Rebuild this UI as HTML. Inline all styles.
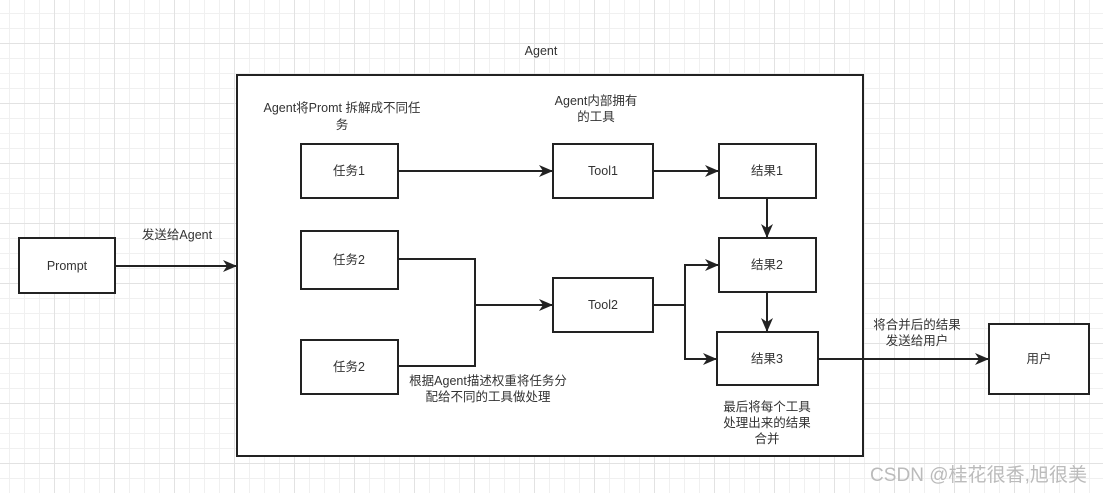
<!DOCTYPE html>
<html><head><meta charset="utf-8"><style>
body{margin:0;width:1103px;height:493px;overflow:hidden;background:#fff;
background-image:linear-gradient(#e2e2e2 1px,transparent 1px),linear-gradient(90deg,#e2e2e2 1px,transparent 1px),linear-gradient(#f0f0f0 1px,transparent 1px),linear-gradient(90deg,#f0f0f0 1px,transparent 1px);
background-size:60px 60px,60px 60px,15px 15px,15px 15px;background-position:0 43px,54px 0,0 13px,9px 0;}
svg{position:absolute;left:0;top:0}
text{font-family:"Liberation Sans","Noto Sans CJK SC",sans-serif;font-size:12.5px;fill:#333}
</style></head><body>
<svg width="1103" height="493">
<defs><marker id="a" markerWidth="14" markerHeight="12" refX="13" refY="6" orient="auto" markerUnits="userSpaceOnUse"><path d="M0,0 L14,6 L0,12 L4,6z" fill="#222"/></marker></defs>
<g fill="#fff" stroke="#222" stroke-width="2">
<rect x="237" y="75" width="626" height="381"/>
<rect x="19" y="238" width="96" height="55"/>
<rect x="301" y="144" width="97" height="54"/>
<rect x="553" y="144" width="100" height="54"/>
<rect x="719" y="144" width="97" height="54"/>
<rect x="301" y="231" width="97" height="58"/>
<rect x="553" y="278" width="100" height="54"/>
<rect x="719" y="238" width="97" height="54"/>
<rect x="717" y="332" width="101" height="53"/>
<rect x="301" y="340" width="97" height="54"/>
<rect x="989" y="324" width="100" height="70"/>
</g>
<g fill="none" stroke="#222" stroke-width="2">
<path d="M115,266H236" marker-end="url(#a)"/>
<path d="M398,171H552" marker-end="url(#a)"/>
<path d="M653,171H718" marker-end="url(#a)"/>
<path d="M767,198V237" marker-end="url(#a)"/>
<path d="M767,292V331" marker-end="url(#a)"/>
<path d="M398,259H475V366H398"/>
<path d="M475,305H552" marker-end="url(#a)"/>
<path d="M653,305H685V265H718" marker-end="url(#a)"/>
<path d="M685,305V359H716" marker-end="url(#a)"/>
<path d="M818,359H988" marker-end="url(#a)"/>
</g>
<g text-anchor="middle">
<text x="541" y="55">Agent</text>
<text x="67" y="270">Prompt</text>
<text x="349" y="175">任务1</text>
<text x="603" y="175">Tool1</text>
<text x="767" y="175">结果1</text>
<text x="349" y="264">任务2</text>
<text x="603" y="309">Tool2</text>
<text x="767" y="269">结果2</text>
<text x="767" y="363">结果3</text>
<text x="349" y="371">任务2</text>
<text x="1039" y="363">用户</text>
<text x="177" y="239">发送给Agent</text>
<text x="342" y="112">Agent将Promt 拆解成不同任</text>
<text x="342" y="129">务</text>
<text x="596" y="105">Agent内部拥有</text>
<text x="596" y="121">的工具</text>
<text x="488" y="385">根据Agent描述权重将任务分</text>
<text x="488" y="401">配给不同的工具做处理</text>
<text x="767" y="411">最后将每个工具</text>
<text x="767" y="427">处理出来的结果</text>
<text x="767" y="443">合并</text>
<text x="917" y="329">将合并后的结果</text>
<text x="917" y="345">发送给用户</text>
</g>
<text x="870" y="481" textLength="217" style="font-size:19px;fill:#bbb">CSDN @桂花很香,旭很美</text>
</svg>
</body></html>
